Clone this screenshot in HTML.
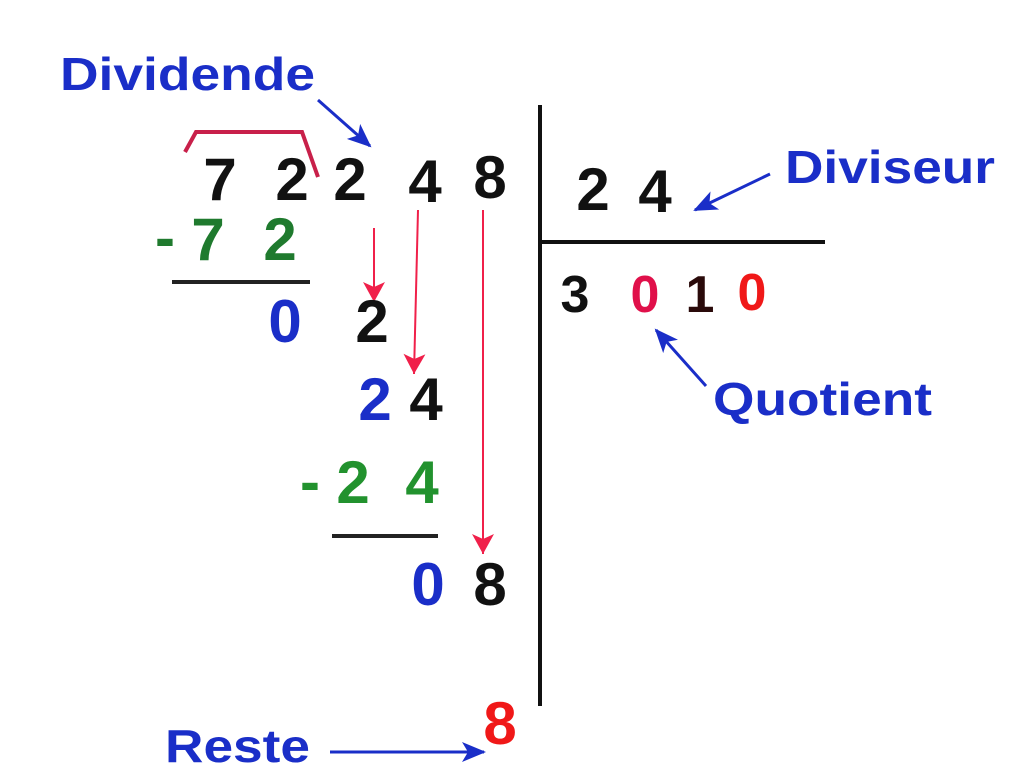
<!DOCTYPE html>
<html><head><meta charset="utf-8"><style>
html,body{margin:0;padding:0;background:#fff}
svg{display:block}
text{font-family:"Liberation Sans",sans-serif;font-weight:bold}
</style></head><body>
<svg width="1024" height="768" viewBox="0 0 1024 768">
<defs>
<marker id="rb" markerWidth="24" markerHeight="20" refX="22" refY="10" orient="auto" markerUnits="userSpaceOnUse" viewBox="0 0 24 20"><path d="M0,0 L24,10 L0,20 L6,10z" fill="#1a2ec8"/></marker>
<marker id="rr" markerWidth="20" markerHeight="22" refX="20" refY="11" orient="auto" markerUnits="userSpaceOnUse" viewBox="0 0 20 22"><path d="M0,0 L20,11 L0,22 L5,11z" fill="#f0204a"/></marker>
</defs>
<g fill="#1a2ec8" font-size="46">
<text x="60" y="90" textLength="255" lengthAdjust="spacingAndGlyphs">Dividende</text>
<text x="785" y="183" textLength="210" lengthAdjust="spacingAndGlyphs">Diviseur</text>
<text x="713" y="415" textLength="219" lengthAdjust="spacingAndGlyphs">Quotient</text>
<text x="165" y="762" textLength="145" lengthAdjust="spacingAndGlyphs">Reste</text>
</g>
<g stroke="#1a2ec8" stroke-width="3" fill="none">
<line x1="318" y1="100" x2="370" y2="146" marker-end="url(#rb)"/>
<line x1="770" y1="174" x2="695" y2="210" marker-end="url(#rb)"/>
<line x1="706" y1="386" x2="656" y2="330" marker-end="url(#rb)"/>
<line x1="330" y1="752" x2="484" y2="752" marker-end="url(#rb)"/>
</g>
<path d="M185,152 L196,132 L302,132 L318,177" stroke="#c8204a" stroke-width="4" fill="none"/>
<g stroke="#f0204a" stroke-width="2" fill="none">
<line x1="374" y1="228" x2="374" y2="302" marker-end="url(#rr)"/>
<line x1="418" y1="210" x2="414" y2="374" marker-end="url(#rr)"/>
<line x1="483" y1="210" x2="483" y2="554" marker-end="url(#rr)"/>
</g>
<line x1="540" y1="105" x2="540" y2="706" stroke="#111" stroke-width="4"/>
<line x1="540" y1="242" x2="825" y2="242" stroke="#111" stroke-width="4"/>
<line x1="172" y1="282" x2="310" y2="282" stroke="#222" stroke-width="4"/>
<line x1="332" y1="536" x2="438" y2="536" stroke="#222" stroke-width="4"/>
<g font-size="60" text-anchor="middle">
<text x="220" y="200" fill="#111">7</text>
<text x="292" y="200" fill="#111">2</text>
<text x="350" y="200" fill="#111">2</text>
<text x="425" y="202" fill="#111">4</text>
<text x="490" y="198" fill="#111">8</text>
<text x="593" y="210" fill="#111">2</text>
<text x="655" y="212" fill="#111">4</text>
<text x="165" y="258" fill="#1f7a2e">-</text>
<text x="208" y="260" fill="#1f7a2e">7</text>
<text x="280" y="260" fill="#1f7a2e">2</text>
<text x="285" y="342" fill="#1a2ec8">0</text>
<text x="372" y="342" fill="#111">2</text>
<text x="375" y="420" fill="#1a2ec8">2</text>
<text x="426" y="420" fill="#111">4</text>
<text x="310" y="502" fill="#22922e">-</text>
<text x="353" y="503" fill="#22922e">2</text>
<text x="422" y="503" fill="#22922e">4</text>
<text x="428" y="605" fill="#1a2ec8">0</text>
<text x="490" y="605" fill="#111">8</text>
<text x="500" y="744" fill="#f01818">8</text>
</g>
<g font-size="52" text-anchor="middle">
<text x="575" y="312" fill="#111">3</text>
<text x="645" y="312" fill="#e0104a">0</text>
<text x="700" y="312" fill="#2a0a0a">1</text>
<text x="752" y="310" fill="#f01818">0</text>
</g>
</svg>
</body></html>
